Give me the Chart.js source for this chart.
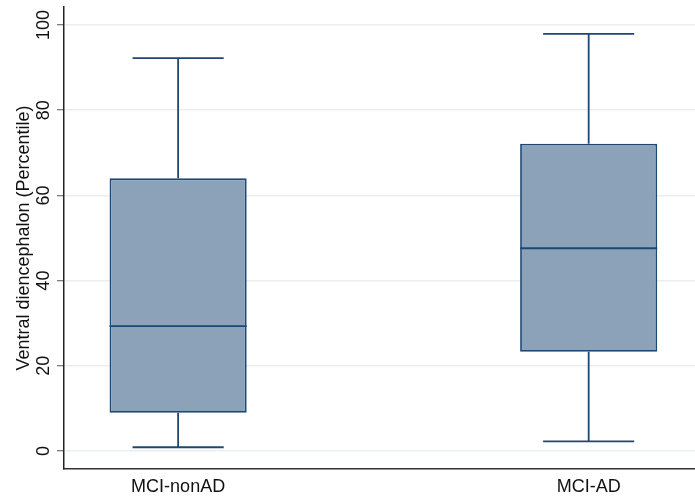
<!DOCTYPE html>
<html>
<head>
<meta charset="utf-8">
<script src="https://cdn.jsdelivr.net/npm/chart.js@4"></script>
<style>
  html,body{margin:0;padding:0;background:#fff;}
  #wrap{width:695px;height:502px;position:relative;}
</style>
</head>
<body>
<div id="wrap"><canvas id="chart"></canvas></div>
<script>
// box plot data
const groups=['MCI-nonAD','MCI-AD'];
const groupPos=[1,2];
const lowWhisker=[0.9,2.3];
const q1=[9.0,23.3];
const median=[29.3,47.6];
const q3=[64.0,72.1];
const highWhisker=[92.2,97.9];
const yTicks=[0,20,40,60,80,100];

const boxFill='#8ca2b8';
const boxLine='#1d4874';
const capHalf=0.111; // in x units

const whiskers={
  id:'whiskers',
  afterDatasetsDraw(chart){
    const {ctx,scales:{x,y}}=chart;
    const meta=chart.getDatasetMeta(0);
    ctx.save();
    ctx.strokeStyle=boxLine;
    ctx.lineWidth=1.8;
    groupPos.forEach((g,i)=>{
      const cx=x.getPixelForValue(g);
      const bar=meta.data[i];
      const half=bar.width/2;
      ctx.beginPath();
      // median
      ctx.moveTo(cx-half,y.getPixelForValue(median[i]));
      ctx.lineTo(cx+half,y.getPixelForValue(median[i]));
      // upper whisker + cap
      ctx.moveTo(cx,y.getPixelForValue(q3[i]));
      ctx.lineTo(cx,y.getPixelForValue(highWhisker[i]));
      ctx.moveTo(x.getPixelForValue(g-capHalf),y.getPixelForValue(highWhisker[i]));
      ctx.lineTo(x.getPixelForValue(g+capHalf),y.getPixelForValue(highWhisker[i]));
      // lower whisker + cap
      ctx.moveTo(cx,y.getPixelForValue(q1[i]));
      ctx.lineTo(cx,y.getPixelForValue(lowWhisker[i]));
      ctx.moveTo(x.getPixelForValue(g-capHalf),y.getPixelForValue(lowWhisker[i]));
      ctx.lineTo(x.getPixelForValue(g+capHalf),y.getPixelForValue(lowWhisker[i]));
      ctx.stroke();
    });
    ctx.restore();
  }
};

const font={family:'"Liberation Sans", Arial, sans-serif',size:18};

new Chart(document.getElementById('chart'),{
  type:'bar',
  data:{
    datasets:[{
      data:groupPos.map((g,i)=>({x:g,y:[q1[i],q3[i]]})),
      backgroundColor:boxFill,
      borderColor:boxLine,
      borderWidth:1.8,
      borderSkipped:false,
      categoryPercentage:1,
      barPercentage:0.334
    }]
  },
  options:{
    responsive:true,
    maintainAspectRatio:false,
    animation:false,
    layout:{padding:{top:7,right:0,left:0,bottom:0}},
    plugins:{legend:{display:false},tooltip:{enabled:false}},
    scales:{
      x:{
        type:'linear',
        offset:false,
        min:0.722,
        max:2.259,
        afterBuildTicks:s=>{s.ticks=groupPos.map(v=>({value:v}));},
        afterFit:s=>{s.height=33;s.paddingLeft=0;s.paddingRight=0;},
        ticks:{
          font:font,color:'#111',padding:-1,maxRotation:0,
          callback:v=>groups[groupPos.indexOf(v)]
        },
        grid:{display:false},
        border:{display:true,color:'#333',width:1.5}
      },
      y:{
        min:-4.2,
        max:104.2,
        afterBuildTicks:s=>{s.ticks=yTicks.map(v=>({value:v}));},
        afterFit:s=>{s.width=64;s.paddingTop=0;s.paddingBottom=0;},
        ticks:{font:font,color:'#111',minRotation:90,maxRotation:90,crossAlign:'center',padding:-2},
        grid:{color:'#e9eff1',lineWidth:1.5,tickColor:'#555',tickLength:7,tickWidth:1},
        border:{display:true,color:'#222',width:1.5},
        title:{display:true,text:'Ventral diencephalon (Percentile)',font:font,color:'#111',padding:{top:13,bottom:0}}
      }
    }
  },
  plugins:[whiskers]
});
</script>
</body>
</html>
